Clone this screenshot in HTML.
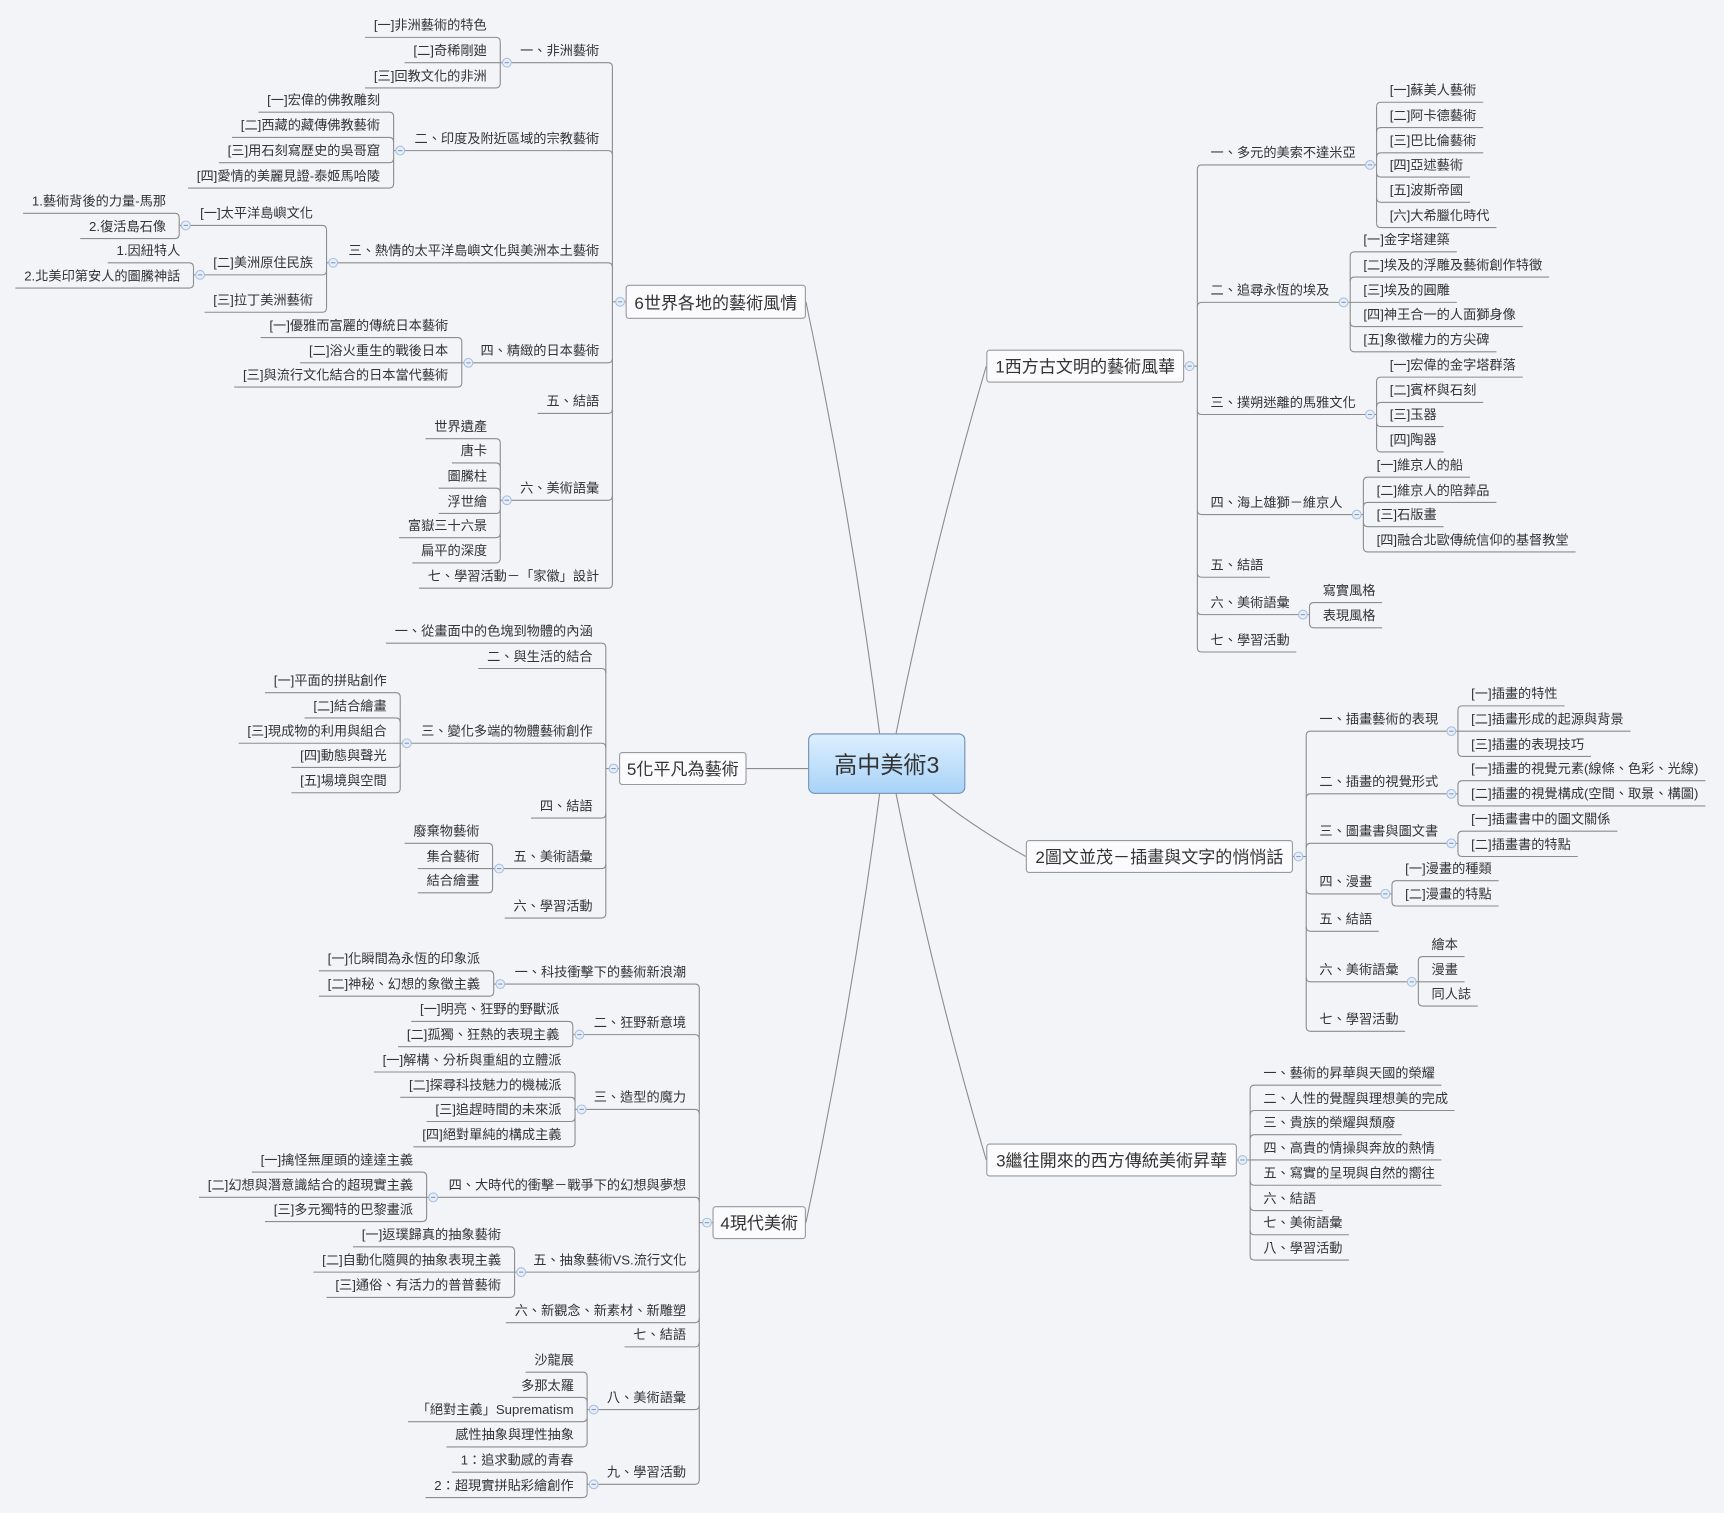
<!DOCTYPE html>
<html><head><meta charset="utf-8"><style>
html,body{margin:0;padding:0;background:#f3f4f8;}
#wrap{position:absolute;left:0;top:0;width:1568px;height:1376px;transform:scale(1.0995);transform-origin:0 0;}
.t{position:absolute;white-space:nowrap;font:12px "Liberation Sans","Noto Sans CJK TC",sans-serif;color:#333;line-height:14px;}
.box{position:absolute;background:#fbfbfd;border:1px solid #999;border-radius:3px;font:15.5px "Liberation Sans","Noto Sans CJK TC",sans-serif;color:#333;display:flex;align-items:center;justify-content:center;white-space:nowrap;box-sizing:border-box;}
#center{position:absolute;left:735px;top:667px;width:143px;height:55px;box-sizing:border-box;border:1px solid #6d8db2;border-radius:6px;background:linear-gradient(#dcefff,#a9d3f7);font:21px "Liberation Sans","Noto Sans CJK TC",sans-serif;color:#333;display:flex;align-items:center;justify-content:center;}
svg{position:absolute;left:0;top:0;}
</style></head><body><div id="wrap">
<svg id="s" width="1568" height="1376"></svg>
<div id="center">高中美術3</div>
</div>
<script>
var W=document.getElementById('wrap'),S=document.getElementById('s');
var NS='http://www.w3.org/2000/svg';
function P(d,c,w){var p=document.createElementNS(NS,'path');p.setAttribute('d',d);p.setAttribute('fill','none');p.setAttribute('stroke',c||'#8c8c8c');p.setAttribute('stroke-width',w||1);S.appendChild(p);}
function C(x,y){var c=document.createElementNS(NS,'circle');c.setAttribute('cx',x);c.setAttribute('cy',y);c.setAttribute('r',4);c.setAttribute('fill','#e6eef9');c.setAttribute('stroke','#aac0dd');S.appendChild(c);P('M'+(x-2)+','+y+'L'+(x+2)+','+y,'#7f9cc4');}
function T(txt,x,y,right){var s=document.createElement('div');s.className='t';s.textContent=txt;W.appendChild(s);var w=s.offsetWidth;var l=right?x-w:x;s.style.left=l+'px';s.style.top=(y-7)+'px';return [l,w];}
function R(side,pvx,list,py){
 var d=side=='R'?1:-1,ys=[];
 list.forEach(function(it){
  var t=it[0],y=it[1],cvx=it[2],kids=it[3],ly=y+11;ys.push(ly);
  var r=T(t,pvx+d*12,y,side=='L'),end;
  if(kids){end=cvx;}else{end=side=='R'?r[0]+r[1]+6:r[0]-8;}
  if(Math.abs(ly-py)<2){P('M'+pvx+','+ly+'L'+end+','+ly);}
  else{var k=ly<py?4:-4;P('M'+pvx+','+(ly+k)+'Q'+pvx+','+ly+' '+(pvx+d*4)+','+ly+'L'+end+','+ly);}
  if(kids){C(cvx-d*6,ly);R(side,cvx,kids,ly);}
 });
 var mn=Math.min.apply(0,ys),mx=Math.max.apply(0,ys);
 if(mn<py-1)mn+=4;if(mx>py+1)mx-=4;
 if(mx>mn)P('M'+pvx+','+mn+'L'+pvx+','+mx);
}
function B(side,x1,y1,x2,y2,txt,vx,kids,cx,cy){
 var b=document.createElement('div');b.className='box';b.textContent=txt;b.style.left=x1+'px';b.style.top=y1+'px';b.style.width=(x2-x1)+'px';b.style.height=(y2-y1)+'px';W.appendChild(b);
 var my=(y1+y2)/2,ex=side=='R'?x2:x1;
 P('M'+ex+','+my+'L'+vx+','+my);C(side=='R'?x2+5:x1-5,my);
 R(side,vx,kids,my);
 var bx=side=='R'?x1:x2;
 P('M'+cx+','+cy+'Q'+((cx+bx)/2+(side=='R'?-8:8))+','+((cy+my)/2)+' '+bx+','+my,'#8c8c8c',1);
}
B('R',897,318,1077,348,'1西方古文明的藝術風華',1089,[
 ['一、多元的美索不達米亞',139,1252,[['[一]蘇美人藝術',82],['[二]阿卡德藝術',105],['[三]巴比倫藝術',128],['[四]亞述藝術',150],['[五]波斯帝國',173],['[六]大希臘化時代',196]]],
 ['二、追尋永恆的埃及',264,1228,[['[一]金字塔建築',218],['[二]埃及的浮雕及藝術創作特徵',241],['[三]埃及的圓雕',264],['[四]神王合一的人面獅身像',286],['[五]象徵權力的方尖碑',309]]],
 ['三、撲朔迷離的馬雅文化',366,1252,[['[一]宏偉的金字塔群落',332],['[二]賓杯與石刻',355],['[三]玉器',377],['[四]陶器',400]]],
 ['四、海上雄獅－維京人',457,1240,[['[一]維京人的船',423],['[二]維京人的陪葬品',446],['[三]石版畫',468],['[四]融合北歐傳統信仰的基督教堂',491]]],
 ['五、結語',514],
 ['六、美術語彙',548,1191,[['寫實風格',537],['表現風格',560]]],
 ['七、學習活動',582]],815,667);
B('R',933,764,1176,794,'2圖文並茂－插畫與文字的悄悄話',1188,[
 ['一、插畫藝術的表現',654,1326,[['[一]插畫的特性',631],['[二]插畫形成的起源與背景',654],['[三]插畫的表現技巧',677]]],
 ['二、插畫的視覺形式',711,1326,[['[一]插畫的視覺元素(線條、色彩、光線)',699],['[二]插畫的視覺構成(空間、取景、構圖)',722]]],
 ['三、圖畫書與圖文書',756,1326,[['[一]插畫書中的圖文關係',745],['[二]插畫書的特點',768]]],
 ['四、漫畫',802,1266,[['[一]漫畫的種類',790],['[二]漫畫的特點',813]]],
 ['五、結語',836],
 ['六、美術語彙',882,1290,[['繪本',859],['漫畫',882],['同人誌',904]]],
 ['七、學習活動',927]],848,722);
B('R',897,1040,1125,1070,'3繼往開來的西方傳統美術昇華',1137,[
 ['一、藝術的昇華與天國的榮耀',976],['二、人性的覺醒與理想美的完成',999],['三、貴族的榮耀與頹廢',1021],['四、高貴的情操與奔放的熱情',1044],['五、寫實的呈現與自然的嚮往',1067],['六、結語',1090],['七、美術語彙',1112],['八、學習活動',1135]],815,722);
B('L',569,259,733,290,'6世界各地的藝術風情',557,[
 ['一、非洲藝術',46,455,[['[一]非洲藝術的特色',23],['[二]奇稀剛廸',46],['[三]回教文化的非洲',69]]],
 ['二、印度及附近區域的宗教藝術',126,358,[['[一]宏偉的佛教雕刻',91],['[二]西藏的藏傳佛教藝術',114],['[三]用石刻寫歷史的吳哥窟',137],['[四]愛情的美麗見證-泰姬馬哈陵',160]]],
 ['三、熱情的太平洋島嶼文化與美洲本土藝術',228,297,[
   ['[一]太平洋島嶼文化',194,163,[['1.藝術背後的力量-馬那',183],['2.復活島石像',206]]],
   ['[二]美洲原住民族',239,176,[['1.因紐特人',228],['2.北美印第安人的圖騰神話',251]]],
   ['[三]拉丁美洲藝術',273]]],
 ['四、精緻的日本藝術',319,420,[['[一]優雅而富麗的傳統日本藝術',296],['[二]浴火重生的戰後日本',319],['[三]與流行文化結合的日本當代藝術',341]]],
 ['五、結語',365],
 ['六、美術語彙',444,455,[['世界遺產',388],['唐卡',410],['圖騰柱',433],['浮世繪',456],['富嶽三十六景',478],['扁平的深度',501]]],
 ['七、學習活動－「家徽」設計',524]],800,667);
B('L',563,684,679,714,'5化平凡為藝術',551,[
 ['一、從畫面中的色塊到物體的內涵',574],['二、與生活的結合',597],
 ['三、變化多端的物體藝術創作',665,364,[['[一]平面的拼貼創作',619],['[二]結合繪畫',642],['[三]現成物的利用與組合',665],['[四]動態與聲光',687],['[五]場境與空間',710]]],
 ['四、結語',733],
 ['五、美術語彙',779,448,[['廢棄物藝術',756],['集合藝術',779],['結合繪畫',801]]],
 ['六、學習活動',824]],735,699);
B('L',648,1097,733,1127,'4現代美術',636,[
 ['一、科技衝擊下的藝術新浪潮',884,449,[['[一]化瞬間為永恆的印象派',872],['[二]神秘、幻想的象徵主義',895]]],
 ['二、狂野新意境',930,521,[['[一]明亮、狂野的野獸派',918],['[二]孤獨、狂熱的表現主義',941]]],
 ['三、造型的魔力',998,523,[['[一]解構、分析與重組的立體派',964],['[二]探尋科技魅力的機械派',987],['[三]追趕時間的未來派',1009],['[四]絕對單純的構成主義',1032]]],
 ['四、大時代的衝擊－戰爭下的幻想與夢想',1078,388,[['[一]擒怪無厘頭的達達主義',1055],['[二]幻想與潛意識結合的超現實主義',1078],['[三]多元獨特的巴黎畫派',1100]]],
 ['五、抽象藝術VS.流行文化',1146,468,[['[一]返璞歸真的抽象藝術',1123],['[二]自動化隨興的抽象表現主義',1146],['[三]通俗、有活力的普普藝術',1169]]],
 ['六、新觀念、新素材、新雕塑',1192],['七、結語',1214],
 ['八、美術語彙',1271,534,[['沙龍展',1237],['多那太羅',1260],['「絕對主義」Suprematism',1282],['感性抽象與理性抽象',1305]]],
 ['九、學習活動',1339,534,[['1：追求動感的青春',1328],['2：超現實拼貼彩繪創作',1351]]]],800,722);
</script>
</body></html>
